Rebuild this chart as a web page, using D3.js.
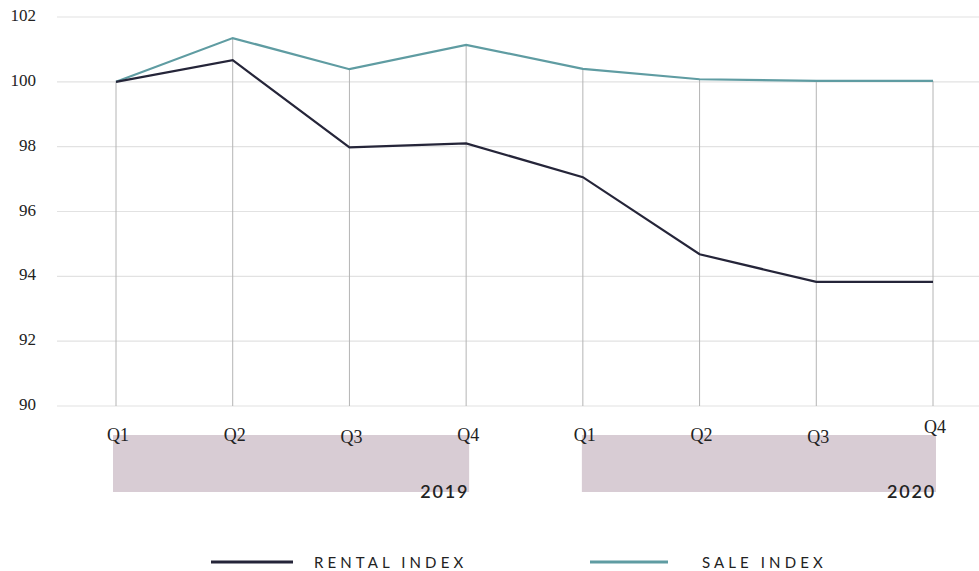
<!DOCTYPE html>
<html>
<head>
<meta charset="utf-8">
<script src="https://cdn.jsdelivr.net/npm/d3@7"></script>
<style>
  body { margin: 0; background: #fff; }
  svg { display: block; }
</style>
</head>
<body>
<svg id="chart"></svg>
<script>
var quarters = ["Q1", "Q2", "Q3", "Q4", "Q1", "Q2", "Q3", "Q4"];
var years = ["2019", "2020"];
var rentalIndex = [100, 100.67, 97.98, 98.1, 97.06, 94.68, 93.83, 93.83];
var saleIndex = [100, 101.35, 100.39, 101.14, 100.4, 100.08, 100.03, 100.03];
var yTicks = [90, 92, 94, 96, 98, 100, 102];

var width = 979, height = 571;
var svg = d3.select("#chart").attr("width", width).attr("height", height);

var x = d3.scalePoint()
    .domain(d3.range(quarters.length))
    .range([116, 933]);
var y = d3.scaleLinear()
    .domain([90, 102])
    .range([406, 17]);

var serif = "'Liberation Serif', 'DejaVu Serif', serif";
var sans = "Lato, 'Open Sans', sans-serif";

// horizontal grid
svg.append("g")
    .selectAll("line")
    .data(yTicks)
    .join("line")
    .attr("x1", 57).attr("x2", width)
    .attr("y1", d => y(d)).attr("y2", d => y(d))
    .attr("stroke", "#e2e2e2")
    .attr("stroke-width", 1.2);

// y labels
svg.append("g")
    .selectAll("text")
    .data(yTicks)
    .join("text")
    .attr("x", 36)
    .attr("y", d => y(d) + 4)
    .attr("text-anchor", "end")
    .style("font-family", serif)
    .style("font-size", "17px")
    .style("fill", "#222")
    .text(d => d);

// drop lines from the higher series down to the floor
svg.append("g")
    .selectAll("line")
    .data(d3.range(quarters.length))
    .join("line")
    .attr("x1", d => x(d)).attr("x2", d => x(d))
    .attr("y1", d => y(Math.max(rentalIndex[d], saleIndex[d])))
    .attr("y2", y(90))
    .attr("stroke", "#b4b4b4")
    .attr("stroke-width", 1);

// year boxes
var yearGroups = svg.append("g")
    .selectAll("g")
    .data(years)
    .join("g");
yearGroups.append("rect")
    .attr("x", (d, i) => x(i * 4) - 3 + i * 2)
    .attr("y", 435)
    .attr("width", (d, i) => x(i * 4 + 3) - x(i * 4) + 6 - i * 2)
    .attr("height", 57)
    .attr("fill", "#d8ccd4");
yearGroups.append("text")
    .attr("x", (d, i) => x(i * 4 + 3) + 3)
    .attr("y", 498)
    .attr("text-anchor", "end")
    .style("font-family", sans)
    .style("font-weight", "600")
    .style("font-size", "18px")
    .style("letter-spacing", "1.8px")
    .style("fill", "#222")
    .text(d => d);

// quarter labels
var qOffsets = [0, 0, 2, 0, 0, 0, 2, -8];
svg.append("g")
    .selectAll("text")
    .data(quarters)
    .join("text")
    .attr("x", (d, i) => x(i) + 2)
    .attr("y", (d, i) => 441 + qOffsets[i])
    .attr("text-anchor", "middle")
    .style("font-family", serif)
    .style("font-size", "18px")
    .style("fill", "#222")
    .text(d => d);

// lines
var line = d3.line()
    .x((d, i) => x(i))
    .y(d => y(d));

svg.append("path")
    .datum(saleIndex)
    .attr("d", line)
    .attr("fill", "none")
    .attr("stroke", "#5f9ca2")
    .attr("stroke-width", 2.2);

svg.append("path")
    .datum(rentalIndex)
    .attr("d", line)
    .attr("fill", "none")
    .attr("stroke", "#252539")
    .attr("stroke-width", 2.2);

// legend
var legendItems = [
    { name: "RENTAL INDEX", color: "#252539", x1: 211, x2: 293, tx: 314 },
    { name: "SALE INDEX", color: "#5f9ca2", x1: 590, x2: 668, tx: 702 }
];
var legend = svg.append("g")
    .selectAll("g")
    .data(legendItems)
    .join("g");
legend.append("line")
    .attr("x1", d => d.x1).attr("x2", d => d.x2)
    .attr("y1", 562).attr("y2", 562)
    .attr("stroke", d => d.color)
    .attr("stroke-width", 3);
legend.append("text")
    .attr("x", d => d.tx)
    .attr("y", 568)
    .style("font-family", sans)
    .style("font-size", "15px")
    .style("letter-spacing", "4.1px")
    .style("fill", "#222")
    .text(d => d.name);
</script>
</body>
</html>
